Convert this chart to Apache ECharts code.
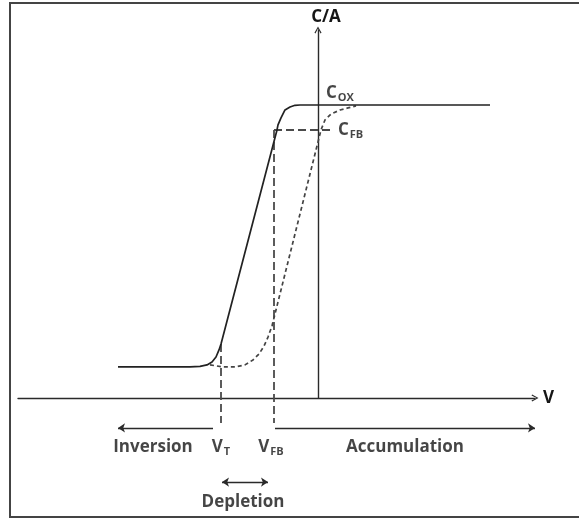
<!DOCTYPE html>
<html>
<head>
<meta charset="utf-8">
<script src="https://cdn.jsdelivr.net/npm/echarts@6/dist/echarts.min.js"></script>
<style>
  html, body { margin: 0; padding: 0; background: #fff; }
  #chart { width: 579px; height: 520px; }
</style>
</head>
<body>
<div id="chart"></div>
<script>
// C–V characteristic of an MOS capacitor.
// Gate voltage V (axis origin at V = 0) against capacitance per area C/A,
// with C/A normalised so that the oxide capacitance C_OX = 1.

// Solid curve: [V, C/A]
const cvCurve = [
  [-10, 0.106], [-6.4, 0.106], [-5.9, 0.108], [-5.55, 0.113], [-5.3, 0.123],
  [-5.1, 0.140], [-4.95, 0.164], [-4.85, 0.184], [-2.05, 0.915], [-2.0, 0.932],
  [-1.85, 0.956], [-1.65, 0.983], [-1.4, 0.993], [-1.15, 0.999], [-0.9, 1.0],
  [8.6, 1.0]
];

// Dashed curve: [V, C/A]
const cvCurveDashed = [
  [-5.4, 0.113], [-4.75, 0.106], [-4.15, 0.106], [-3.65, 0.113], [-3.25, 0.130],
  [-2.95, 0.150], [-2.7, 0.177], [-2.5, 0.208], [-2.3, 0.246], [0, 0.874],
  [0.15, 0.915], [0.35, 0.949], [0.65, 0.969], [1.1, 0.983], [1.5, 0.990],
  [1.9, 0.997]
];

// Characteristic voltages and capacitances
const vT = -4.85;   // threshold voltage
const vFB = -2.2;   // flat-band voltage
const cOX = 1.0;    // oxide capacitance
const cFB = 0.915;  // flat-band capacitance

// Region names along the voltage axis
const regionNames = ['Inversion', 'Depletion', 'Accumulation'];

// Axis extents
const vMin = -15, vMax = 10.85;
const cMin = 0, cMax = 1.256;

// Rows below the voltage axis (in C/A units) used for annotations
const guideEnd = -0.085;
const arrowRow = -0.102;
const textRow = -0.167;
const depletionArrowRow = -0.287;
const depletionTextRow = -0.355;

const FONT = '"Open Sans", "DejaVu Sans", sans-serif';
const INK = '#161616';

// Open chevron used as the axis arrow heads (points "up" before rotation)
const chevron = 'path://M0,9 L5,0 L10,9 L8.6,9.9 L5,2.8 L1.4,9.9 Z';

function levelAt(curve, v) {
  for (let i = 1; i < curve.length; i++) {
    const [x0, y0] = curve[i - 1];
    const [x1, y1] = curve[i];
    if (v >= x0 && v <= x1) return y0 + (y1 - y0) * (v - x0) / (x1 - x0);
  }
  return curve[curve.length - 1][1];
}

const rich = {
  m: { fontFamily: FONT, fontSize: 17, fontWeight: 'bold', color: INK, lineHeight: 20 },
  s: { fontFamily: FONT, fontSize: 11, fontWeight: 'bold', color: INK, lineHeight: 12, padding: [10, 0, 0, 1] }
};

function textItem(x, y, formatter, extra) {
  return Object.assign({
    value: [x, y],
    label: { show: true, position: 'inside', formatter: formatter, rich: rich }
  }, extra || {});
}

const labelData = [
  textItem(-8.25, textRow, '{m|' + regionNames[0] + '}'),
  textItem(vT, textRow, '{m|V}{s|T}'),
  textItem(vFB - 0.15, textRow, '{m|V}{s|FB}'),
  textItem(4.35, textRow, '{m|' + regionNames[2] + '}'),
  textItem(-3.75, depletionTextRow, '{m|' + regionNames[1] + '}'),
  textItem(0, cOX, '', {
    label: { show: true, position: 'inside', align: 'left', offset: [8, -12], formatter: '{m|C}{s|OX}', rich: rich }
  }),
  textItem(0.7, cFB, '', {
    label: { show: true, position: 'inside', align: 'left', offset: [6, 0], formatter: '{m|C}{s|FB}', rich: rich }
  })
];

const chart = echarts.init(document.getElementById('chart'), null, { renderer: 'canvas' });

chart.setOption({
  animation: false,
  backgroundColor: '#fff',
  graphic: [{
    type: 'rect',
    silent: true,
    shape: { x: 10, y: 3, width: 640, height: 514 },
    style: { fill: 'none', stroke: '#444', lineWidth: 2 }
  }],
  grid: { left: 18, right: 44, top: 30, bottom: 122 },
  xAxis: {
    type: 'value',
    min: vMin,
    max: vMax,
    name: 'V',
    nameLocation: 'end',
    nameGap: 8,
    nameTextStyle: { fontFamily: FONT, fontSize: 17, fontWeight: 'bold', color: INK, padding: [12, 0, 0, 0] },
    axisLine: {
      show: true,
      onZero: true,
      symbol: ['none', chevron],
      symbolSize: [9, 7],
      lineStyle: { color: '#2a2a2a', width: 1.4 }
    },
    axisTick: { show: false },
    axisLabel: { show: false },
    splitLine: { show: false }
  },
  yAxis: {
    type: 'value',
    min: cMin,
    max: cMax,
    name: 'C/A',
    nameLocation: 'end',
    nameGap: 4,
    nameTextStyle: { fontFamily: FONT, fontSize: 17, fontWeight: 'bold', color: INK, padding: [0, 0, 0, 16] },
    axisLine: {
      show: true,
      onZero: true,
      symbol: ['none', chevron],
      symbolSize: [9, 7],
      lineStyle: { color: '#2a2a2a', width: 1.4 }
    },
    axisTick: { show: false },
    axisLabel: { show: false },
    splitLine: { show: false }
  },
  series: [
    {
      // dashed guide lines marking V_T, V_FB and C_FB
      type: 'lines',
      coordinateSystem: 'cartesian2d',
      clip: false,
      z: 2,
      symbol: 'none',
      lineStyle: { color: '#4a4a4a', width: 1.8, type: [8, 4], opacity: 1 },
      data: [
        { coords: [[vT, levelAt(cvCurve, vT)], [vT, guideEnd]] },
        { coords: [[vFB, cFB], [vFB, guideEnd]] },
        { coords: [[vFB, cFB], [0.7, cFB]] }
      ]
    },
    {
      // region arrows
      type: 'lines',
      coordinateSystem: 'cartesian2d',
      clip: false,
      z: 2,
      symbol: ['none', 'arrow'],
      symbolSize: 7,
      lineStyle: { color: '#2a2a2a', width: 1.4, opacity: 1 },
      data: [
        { coords: [[vT - 0.4, arrowRow], [-10, arrowRow]] },
        { coords: [[vFB + 0.05, arrowRow], [vMax, arrowRow]] },
        { coords: [[vT + 0.05, depletionArrowRow], [vFB - 0.3, depletionArrowRow]], symbol: ['arrow', 'arrow'] }
      ]
    },
    {
      type: 'line',
      data: cvCurveDashed,
      smooth: false,
      showSymbol: false,
      clip: false,
      z: 3,
      lineStyle: { color: '#444', width: 1.7, type: [4, 3], join: 'round' }
    },
    {
      type: 'line',
      data: cvCurve,
      smooth: false,
      showSymbol: false,
      clip: false,
      z: 4,
      lineStyle: { color: '#222', width: 1.7, join: 'round' }
    },
    {
      type: 'scatter',
      symbolSize: 0,
      clip: false,
      z: 5,
      silent: true,
      data: labelData
    }
  ]
});
</script>
</body>
</html>
